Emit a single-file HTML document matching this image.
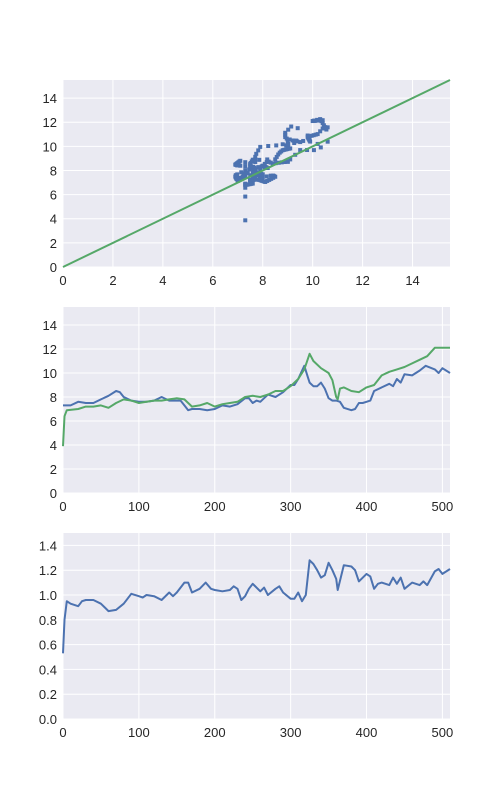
<!DOCTYPE html>
<html><head><meta charset="utf-8"><style>
body{margin:0;background:#fff}
svg{display:block;font-family:"Liberation Sans",Arial,sans-serif}
</style></head><body>
<svg id="fig" width="500" height="800"></svg>
<script>
const blueIdx=[0,5,10,20,30,40,50,60,70,75,80,90,100,110,120,130,140,150,155,160,165,170,180,190,200,210,220,230,240,245,250,255,260,265,270,280,290,300,305,310,318,322,325,330,335,340,345,350,355,360,365,370,380,385,390,395,400,405,410,420,430,435,440,445,450,460,470,478,490,495,500,510];
const blueVal=[7.3,7.3,7.3,7.6,7.5,7.5,7.8,8.1,8.5,8.4,8.0,7.7,7.6,7.6,7.7,8.0,7.7,7.7,7.7,7.3,6.9,7.0,7.0,6.9,7.0,7.3,7.2,7.4,7.9,7.9,7.5,7.7,7.6,7.9,8.2,8.0,8.4,9.0,9.0,9.5,10.6,9.8,9.2,8.9,8.9,9.2,8.7,7.9,7.7,7.7,7.6,7.1,6.9,7.0,7.5,7.5,7.6,7.7,8.5,8.8,9.1,8.9,9.5,9.2,9.9,9.8,10.2,10.6,10.3,10.0,10.4,10.0];
const greenIdx=[0,2,5,20,30,40,50,60,70,80,90,100,110,120,130,140,150,160,170,180,190,200,210,220,230,240,250,260,270,280,290,300,310,318,325,330,340,350,355,360,362,365,370,380,390,400,410,420,430,440,450,460,470,480,490,500,510];
const greenVal=[3.9,6.4,6.9,7.0,7.2,7.2,7.3,7.1,7.5,7.8,7.7,7.5,7.6,7.7,7.7,7.8,7.9,7.8,7.2,7.3,7.5,7.2,7.4,7.5,7.6,8.0,8.1,8.0,8.2,8.5,8.5,8.9,9.5,10.3,11.6,11.0,10.4,10.0,9.4,8.0,7.8,8.7,8.8,8.5,8.4,8.8,9.0,9.8,10.1,10.3,10.5,10.8,11.1,11.4,12.1,12.1,12.1];
const ratioIdx=[0,2,5,10,20,25,30,40,50,55,60,70,80,90,100,105,110,120,130,140,145,150,160,165,170,180,188,195,200,210,220,225,230,235,240,245,250,260,265,270,280,285,290,300,305,310,315,320,325,330,335,340,345,350,355,360,362,370,380,385,390,400,405,410,415,420,430,435,440,445,450,460,470,475,480,490,495,500,510];
const ratioVal=[0.53,0.80,0.95,0.93,0.91,0.95,0.96,0.96,0.93,0.90,0.87,0.88,0.93,1.01,0.99,0.98,1.0,0.99,0.96,1.02,0.99,1.02,1.10,1.10,1.02,1.05,1.10,1.05,1.04,1.03,1.04,1.07,1.05,0.96,0.99,1.05,1.09,1.03,1.06,1.00,1.05,1.07,1.02,0.97,0.97,1.02,0.95,1.00,1.28,1.25,1.20,1.14,1.16,1.26,1.20,1.13,1.04,1.24,1.23,1.20,1.11,1.17,1.15,1.05,1.09,1.10,1.08,1.14,1.09,1.14,1.05,1.10,1.08,1.11,1.08,1.19,1.21,1.17,1.21];
const sTicks=[0,2,4,6,8,10,12,14];
const tTicks=[0,100,200,300,400,500];
const rTicks=[0,0.2,0.4,0.6,0.8,1.0,1.2,1.4];

const NS='http://www.w3.org/2000/svg';
const svg=document.getElementById('fig');
function mk(t,a,p){const e=document.createElementNS(NS,t);for(const k in a)e.setAttribute(k,a[k]);(p||svg).appendChild(e);return e;}
function interp(ix,v,x){for(let i=0;i<ix.length-1;i++){if(x<=ix[i+1]){const f=(x-ix[i])/(ix[i+1]-ix[i]);return v[i]+f*(v[i+1]-v[i]);}}return v[v.length-1];}
function axes(name,L,R,T,B,xmin,xmax,ymin,ymax,xt,yt,yfmt){
  const g=mk('g',{});
  
  
  const sx=v=>L+(v-xmin)/(xmax-xmin)*(R-L), sy=v=>B-(v-ymin)/(ymax-ymin)*(B-T);
  mk('rect',{x:L,y:T,width:R-L,height:B-T,fill:'#eaeaf2'},g);
  xt.forEach(t=>{const x=sx(t);mk('line',{x1:x,x2:x,y1:T,y2:B,stroke:'#fff','stroke-width':1},g);
    const tx=mk('text',{x:x,y:B+18,'text-anchor':'middle','font-size':13,fill:'#262626'},g);tx.textContent=t;
    
    });
  yt.forEach(t=>{const y=sy(t);mk('line',{x1:L,x2:R,y1:y,y2:y,stroke:'#fff','stroke-width':1},g);
    const tx=mk('text',{x:L-6,y:y+5,'text-anchor':'end','font-size':13,fill:'#262626'},g);tx.textContent=yfmt(t);
    
    });
  return {g,sx,sy};
}
function line(ax,ix,v,color,name){
  const d=ix.map((x,i)=>(i?'L':'M')+ax.sx(x).toFixed(1)+' '+ax.sy(v[i]).toFixed(1)).join('');
  const p=mk('path',{d:d,fill:'none',stroke:color,'stroke-width':2,'stroke-linejoin':'round'},ax.g);
  
  
}
// Panel 1: scatter (x = blue level, y = blue level * ratio)
const a1=axes('scatter-panel',63,450,80,267,0,15.5,0,15.5,sTicks,sTicks,t=>t);
const sg=mk('g',{fill:'#4c72b0'},a1.g);


for(let i=0;i<=510;i+=2){const bx=interp(blueIdx,blueVal,i),gy=bx*interp(ratioIdx,ratioVal,i);
  const r=mk('rect',{x:a1.sx(bx)-2,y:a1.sy(gy)-2,width:4,height:4},sg);
  
  }
const dl=mk('line',{x1:a1.sx(0),y1:a1.sy(0),x2:a1.sx(15.5),y2:a1.sy(15.5),stroke:'#55a868','stroke-width':2},a1.g);


// Panel 2
const a2=axes('series-panel',63,450,307,493,0,510,0,15.5,tTicks,sTicks,t=>t);
line(a2,blueIdx,blueVal,'#4c72b0','blue-series');
line(a2,greenIdx,greenVal,'#55a868','green-series');
// Panel 3
const a3=axes('ratio-panel',63,450,533,719,0,510,0,1.5,tTicks,rTicks,t=>t.toFixed(1));
line(a3,ratioIdx,ratioVal,'#4c72b0','ratio-series');
</script>
</body></html>
